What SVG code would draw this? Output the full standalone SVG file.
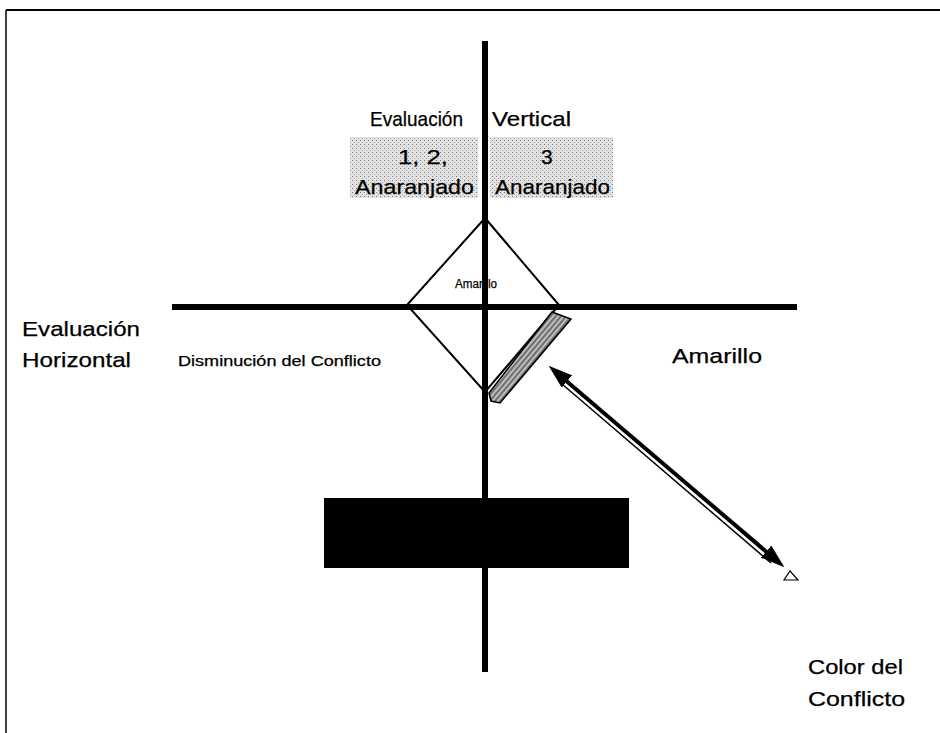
<svg xmlns="http://www.w3.org/2000/svg" width="940" height="733" viewBox="0 0 940 733">
<style>
  text { font-family: "Liberation Sans", Arial, sans-serif; fill: #000; stroke: #000; stroke-width: 0.25; }
  .lbl { font-size: 21px; }
  .big { font-size: 21px; }
  .small { font-size: 12px; }
  .mid { font-size: 14px; }
  .axis { stroke: #000; stroke-width: 6; fill: none; }
  .edge { stroke: #000; stroke-width: 2; fill: none; }
</style>
<defs>
  <pattern id="dither" width="4" height="4" patternUnits="userSpaceOnUse">
    <rect width="4" height="4" fill="#e2e2e2"/>
    <rect x="0" y="0" width="1" height="1" fill="#7a7a7a"/>
    <rect x="2" y="2" width="1" height="1" fill="#a8a8a8"/>
  </pattern>
  <pattern id="hatch" width="4" height="4" patternUnits="userSpaceOnUse" patternTransform="rotate(-50)">
    <rect width="4" height="4" fill="#bdbdbd"/>
    <line x1="0" y1="1" x2="4" y2="1" stroke="#222" stroke-width="1"/>
  </pattern>
  <marker id="head" viewBox="0 0 24 16" refX="13" refY="8" markerWidth="24" markerHeight="16" markerUnits="userSpaceOnUse" orient="auto-start-reverse">
    <path d="M0,0 L24,8 L0,16 z" fill="#000"/>
  </marker>
</defs>

<rect width="940" height="733" fill="#fff"/>

<g id="frame">
  <line x1="6" y1="10" x2="940" y2="10" stroke="#000" stroke-width="2"/>
  <line x1="6" y1="10" x2="6" y2="733" stroke="#000" stroke-width="1.5"/>
</g>

<g id="box-left">
  <rect x="350" y="137" width="128" height="61" fill="url(#dither)"/>
  <text class="lbl" x="398" y="164" textLength="50" lengthAdjust="spacingAndGlyphs">1, 2,</text>
  <text class="lbl" x="355" y="194" textLength="119" lengthAdjust="spacingAndGlyphs">Anaranjado</text>
</g>

<g id="box-right">
  <rect x="490" y="137" width="123" height="61" fill="url(#dither)"/>
  <text class="lbl" x="541" y="164">3</text>
  <text class="lbl" x="495" y="194" textLength="115" lengthAdjust="spacingAndGlyphs">Anaranjado</text>
</g>

<g id="title-vertical">
  <text class="lbl" x="370" y="126" textLength="93" lengthAdjust="spacingAndGlyphs">Evaluación</text>
  <text class="lbl" x="492" y="126" textLength="79" lengthAdjust="spacingAndGlyphs">Vertical</text>
</g>

<g id="diamond">
  <polygon class="edge" points="485,218 559,305 485,392 407,305"/>
  <text class="small" x="455" y="288" textLength="42" lengthAdjust="spacingAndGlyphs">Amarillo</text>
</g>

<g id="strip">
  <polygon points="552,312 571,319 500,403 491,401 489,393" fill="url(#hatch)" stroke="#000" stroke-width="1.5"/>
</g>

<g id="dark-box">
  <rect x="324" y="498" width="305" height="70" fill="#000"/>
</g>

<g id="axes">
  <line class="axis" x1="485" y1="41" x2="485" y2="672"/>
  <line class="axis" x1="172" y1="307" x2="797" y2="307"/>
</g>

<g id="label-horizontal">
  <text class="big" x="22" y="336" textLength="118" lengthAdjust="spacingAndGlyphs">Evaluación</text>
  <text class="big" x="22" y="367" textLength="109" lengthAdjust="spacingAndGlyphs">Horizontal</text>
</g>

<g id="label-disminucion">
  <text class="mid" x="178" y="366" textLength="203" lengthAdjust="spacingAndGlyphs">Disminución del Conflicto</text>
</g>

<g id="label-amarillo">
  <text class="lbl" x="672" y="363" textLength="90" lengthAdjust="spacingAndGlyphs">Amarillo</text>
</g>

<g id="label-color">
  <text class="big" x="808" y="674" textLength="95" lengthAdjust="spacingAndGlyphs">Color del</text>
  <text class="big" x="808" y="706" textLength="97" lengthAdjust="spacingAndGlyphs">Conflicto</text>
</g>

<g id="connectors">
  <line x1="557" y1="373" x2="776" y2="560" stroke="#000" stroke-width="4" marker-start="url(#head)" marker-end="url(#head)"/>
  <line x1="562" y1="384" x2="771" y2="563" stroke="#000" stroke-width="1.5"/>
  <polygon points="784,580 798,580 790,571" fill="none" stroke="#000" stroke-width="1.2"/>
</g>
</svg>
